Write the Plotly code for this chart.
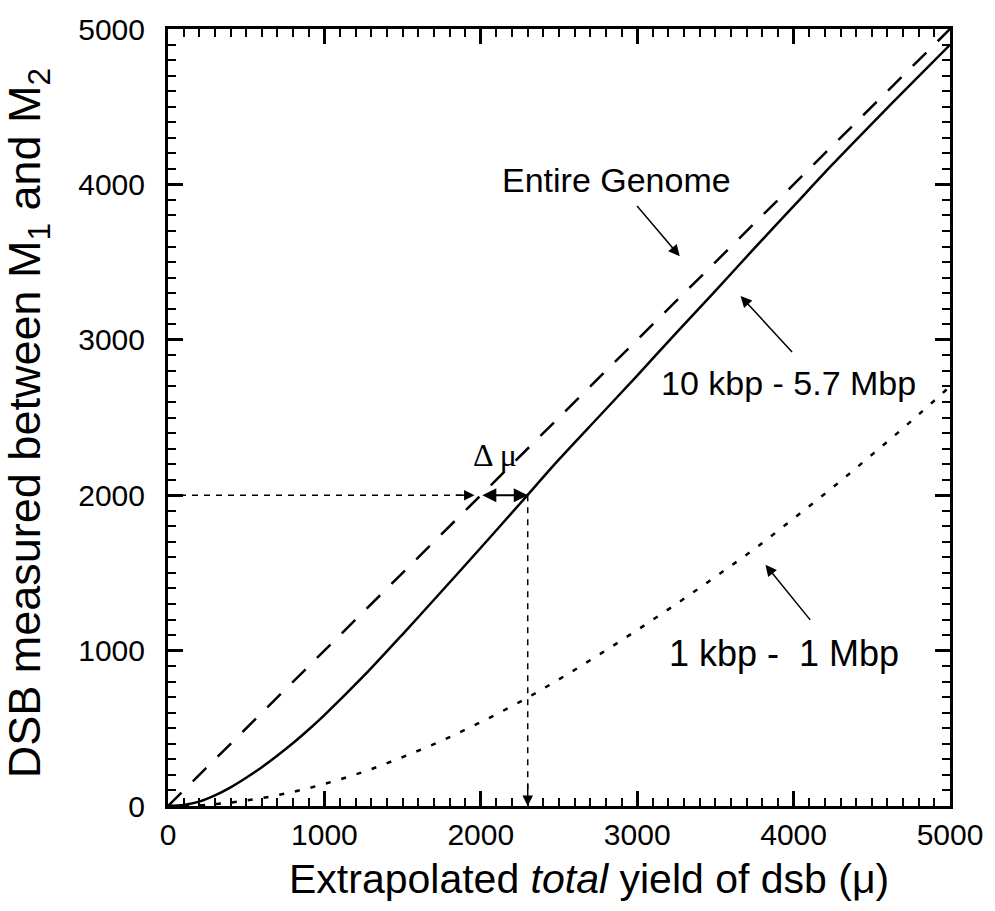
import plotly.graph_objects as go

# ---- data ----
mu = [0, 250, 500, 750, 1000, 1250, 1500, 1750, 2000, 2250, 2500, 2750, 3000,
      3250, 3500, 3750, 4000, 4250, 4500, 4750, 5000]
entire_x = [0, 5000]
entire_y = [0, 5000]
kbp10_x = [0, 100, 200, 300, 400, 500, 600, 700, 800, 900, 1000, 1250, 1500, 1750,
           2000, 2250, 2500, 2750, 3000, 3250, 3500, 3750, 4000, 4250, 4500, 4750, 5000]
kbp10_y = [0, 7, 28, 68, 120, 182, 250, 325, 405, 492, 585, 835, 1105, 1382,
           1662, 1945, 2230, 2500, 2770, 3045, 3315, 3590, 3860, 4130, 4390, 4645, 4898]
kbp1_y = [0, 8, 35, 80, 142, 220, 315, 420, 540, 670, 815, 970, 1132,
          1300, 1475, 1655, 1850, 2050, 2260, 2475, 2700]
measured_level = 2000
delta_left = 2000
delta_right = 2300
x_ticks = [0, 1000, 2000, 3000, 4000, 5000]
y_ticks = [0, 1000, 2000, 3000, 4000, 5000]

FONT = "Liberation Sans, Arial, sans-serif"

fig = go.Figure()
fig.add_trace(go.Scatter(x=entire_x, y=entire_y, mode="lines",
                         line=dict(color="black", width=2.5, dash="19px,16px"),
                         showlegend=False, hoverinfo="skip"))
fig.add_trace(go.Scatter(x=kbp10_x, y=kbp10_y, mode="lines", line_shape="spline",
                         line=dict(color="black", width=2.5, smoothing=0.8),
                         showlegend=False, hoverinfo="skip"))
fig.add_trace(go.Scatter(x=mu, y=kbp1_y, mode="lines", line_shape="spline",
                         line=dict(color="black", width=2.5, dash="5px,11px"),
                         showlegend=False, hoverinfo="skip"))
# horizontal dashed guide at 2000 and vertical dashed guide at 2300
fig.add_trace(go.Scatter(x=[0, 1930], y=[measured_level, measured_level], mode="lines",
                         line=dict(color="black", width=1.5, dash="6px,6px"),
                         showlegend=False, hoverinfo="skip"))
fig.add_trace(go.Scatter(x=[delta_right, delta_right], y=[measured_level, 80], mode="lines",
                         line=dict(color="black", width=1.5, dash="6px,6px"),
                         showlegend=False, hoverinfo="skip"))

ann = []
# arrowheads of dashed guides
ann.append(dict(x=1960, y=measured_level, ax=1830, ay=measured_level, xref="x", yref="y",
                axref="x", ayref="y", showarrow=True, arrowhead=2, arrowsize=1.4,
                arrowwidth=1.5, arrowcolor="black", text=""))
ann.append(dict(x=delta_right, y=0, ax=delta_right, ay=150, xref="x", yref="y",
                axref="x", ayref="y", showarrow=True, arrowhead=2, arrowsize=1.4,
                arrowwidth=1.5, arrowcolor="black", text=""))
# delta mu double arrow
ann.append(dict(x=delta_right, y=measured_level, ax=delta_left, ay=measured_level,
                xref="x", yref="y", axref="x", ayref="y", showarrow=True,
                arrowhead=2, startarrowhead=2, arrowside="end+start", arrowsize=1.4,
                startarrowsize=1.4, arrowwidth=2, arrowcolor="black", text=""))
ann.append(dict(x=2092, y=2261, xref="x", yref="y", showarrow=False, text="Δ μ",
                font=dict(family="Liberation Serif, Times New Roman, serif", size=32, color="black")))
# curve labels with arrows
labels = [
    ("Entire Genome", 2870, 4030, 2991, 3870, 3272, 3538, 34),
    ("10 kbp - 5.7 Mbp", 3967, 2720, 3999, 2912, 3661, 3282, 34),
    ("1 kbp -&nbsp;&nbsp;1 Mbp", 3941, 983, 4114, 1188, 3820, 1552, 36),
]
for txt, tx, ty, x0, y0, x1, y1, fs in labels:
    ann.append(dict(x=tx, y=ty, xref="x", yref="y", showarrow=False, text=txt,
                    font=dict(family=FONT, size=fs, color="black")))
    ann.append(dict(x=x1, y=y1, ax=x0, ay=y0, xref="x", yref="y", axref="x", ayref="y",
                    showarrow=True, arrowhead=2, arrowsize=1.5, arrowwidth=1.5,
                    arrowcolor="black", text=""))
# axis titles
ann.append(dict(x=0.538, y=-0.094, xref="paper", yref="paper", showarrow=False,
                xanchor="center", yanchor="middle",
                text="Extrapolated <i>total</i> yield of dsb (μ)",
                font=dict(family=FONT, size=41, color="black")))
ann.append(dict(x=-0.1786, y=0.493, xref="paper", yref="paper", showarrow=False,
                xanchor="center", yanchor="middle", textangle=-90,
                text="DSB measured between M<sub>1</sub> and M<sub>2</sub>",
                font=dict(family=FONT, size=45, color="black")))

axis_common = dict(
    showgrid=False, zeroline=False, showline=True, linecolor="black", linewidth=3,
    mirror="allticks", ticks="inside", ticklen=15, tickwidth=2.5, tickcolor="black",
    range=[0, 5000], tickfont=dict(family=FONT, size=30, color="black"),
    minor=dict(ticks="inside", ticklen=8, tickwidth=2, tickcolor="black", dtick=100),
)
fig.update_xaxes(**axis_common, tickvals=x_ticks, ticktext=[str(v) for v in x_ticks],
                 ticklabelstandoff=0)
fig.update_yaxes(**axis_common, tickvals=y_ticks, ticktext=[str(v) for v in y_ticks],
                 ticklabelstandoff=14)

fig.update_layout(width=995, height=911, margin=dict(l=168, r=43, t=23, b=105),
                  paper_bgcolor="white", plot_bgcolor="white",
                  annotations=ann, showlegend=False)
fig.write_html("out.html")
